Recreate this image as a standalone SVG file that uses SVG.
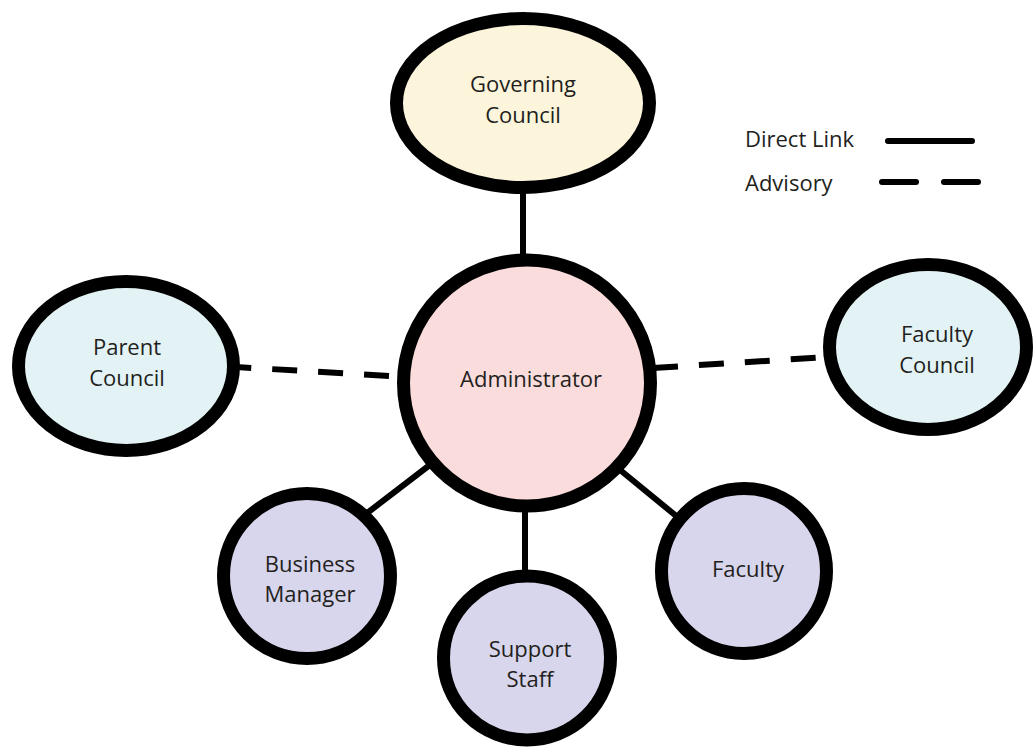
<svg xmlns="http://www.w3.org/2000/svg" width="1036" height="747" viewBox="0 0 1036 747">
  <style>
    .node { stroke: #000; stroke-width: 13; }
    .gov { fill: #fcf5dc; }
    .council { fill: #e3f3f5; }
    .admin { fill: #fadcdc; }
    .staff { fill: #d8d6ec; }
    .lbl { font-family: "Open Sans", "Liberation Sans", sans-serif; font-size: 22px; fill: #231f20; text-anchor: middle; }
    .leg { font-family: "Open Sans", "Liberation Sans", sans-serif; font-size: 22px; fill: #231f20; }
    .direct { stroke: #000; stroke-width: 6; fill: none; }
    .advisory { stroke: #000; stroke-width: 6; fill: none; stroke-dasharray: 25 21; }
  </style>
  <rect width="1036" height="747" fill="#ffffff"/>
  <g id="connectors">
    <line class="direct" x1="523" y1="185" x2="523" y2="265"/>
    <line class="direct" x1="435" y1="461" x2="358" y2="520"/>
    <line class="direct" x1="525" y1="500" x2="525" y2="582"/>
    <line class="direct" x1="614" y1="465" x2="686" y2="524"/>
    <line class="advisory" x1="389" y1="376" x2="236" y2="367"/>
    <line class="advisory" x1="653" y1="368" x2="828" y2="357"/>
  </g>
  <g id="governing-council">
    <ellipse class="node gov" cx="523" cy="103" rx="126.5" ry="84.5"/>
    <text class="lbl" x="523" y="92">Governing</text>
    <text class="lbl" x="523" y="123">Council</text>
  </g>
  <g id="administrator">
    <ellipse class="node admin" cx="527" cy="383" rx="123.5" ry="123"/>
    <text class="lbl" x="531" y="387">Administrator</text>
  </g>
  <g id="parent-council">
    <ellipse class="node council" cx="126" cy="366" rx="107.5" ry="84.5"/>
    <text class="lbl" x="127" y="355">Parent</text>
    <text class="lbl" x="127" y="386">Council</text>
  </g>
  <g id="faculty-council">
    <ellipse class="node council" cx="928" cy="347" rx="98.5" ry="82.5"/>
    <text class="lbl" x="937" y="342">Faculty</text>
    <text class="lbl" x="937" y="373">Council</text>
  </g>
  <g id="business-manager">
    <ellipse class="node staff" cx="307" cy="576" rx="83.5" ry="82.5"/>
    <text class="lbl" x="310" y="572">Business</text>
    <text class="lbl" x="310" y="602">Manager</text>
  </g>
  <g id="support-staff">
    <ellipse class="node staff" cx="527" cy="658" rx="83.5" ry="82"/>
    <text class="lbl" x="530" y="657">Support</text>
    <text class="lbl" x="530" y="687">Staff</text>
  </g>
  <g id="faculty">
    <ellipse class="node staff" cx="744" cy="571" rx="82.5" ry="82.5"/>
    <text class="lbl" x="748" y="577">Faculty</text>
  </g>
  <g id="legend">
    <text class="leg" x="745" y="147">Direct Link</text>
    <text class="leg" x="745" y="191">Advisory</text>
    <line x1="888" y1="141" x2="972" y2="141" stroke="#000" stroke-width="6" stroke-linecap="round"/>
    <line x1="882" y1="182" x2="916" y2="182" stroke="#000" stroke-width="6" stroke-linecap="round"/>
    <line x1="944" y1="182" x2="978" y2="182" stroke="#000" stroke-width="6" stroke-linecap="round"/>
  </g>
</svg>
